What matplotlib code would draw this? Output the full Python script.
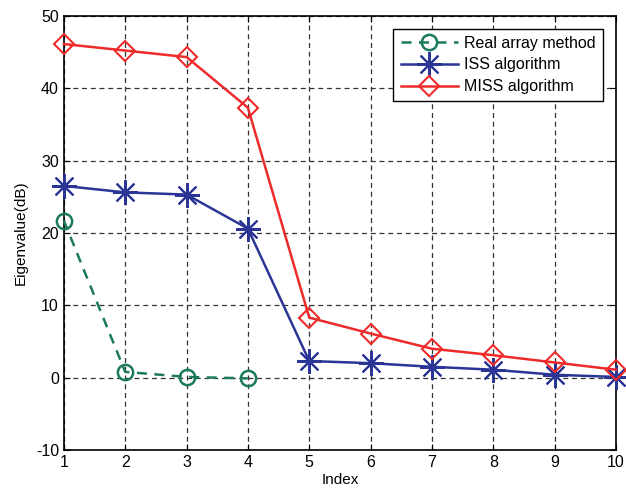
import numpy as np
import matplotlib
matplotlib.use("Agg")
import matplotlib.pyplot as plt

plt.rcParams['font.family'] = ['Liberation Sans', 'DejaVu Sans']
plt.rcParams['axes.unicode_minus'] = False

index = [1, 2, 3, 4, 5, 6, 7, 8, 9, 10]
real_idx = [1, 2, 3, 4]
real_vals = [21.7, 0.8, 0.1, -0.1]
iss_vals = [26.5, 25.6, 25.3, 20.6, 2.3, 2.0, 1.5, 1.1, 0.4, 0.1]
miss_vals = [46.1, 45.2, 44.3, 37.3, 8.3, 6.1, 4.0, 3.1, 2.1, 1.1]

green = '#1b7a5a'
blue = '#2b3596'
red = '#ee2a2a'

fig = plt.figure(figsize=(6.26, 4.94), dpi=100)
ax = fig.add_axes([0.102, 0.089, 0.882, 0.879])

ax.plot(real_idx, real_vals, '--', color=green, lw=1.8, marker='o',
        markersize=11, markerfacecolor='none', markeredgewidth=1.8,
        dashes=(4, 3), label='Real array method', clip_on=False, zorder=3)
ax.plot(index, iss_vals, '-', color=blue, lw=1.8, marker=(8, 2, 0),
        markersize=18, markeredgewidth=1.5, label='ISS algorithm',
        clip_on=False, zorder=3)
ax.plot(index, miss_vals, '-', color=red, lw=1.8, marker='D',
        markersize=10, markerfacecolor='none', markeredgewidth=1.5,
        label='MISS algorithm', clip_on=False, zorder=4)

ax.set_xlim(1, 10)
ax.set_ylim(-10, 50)
ax.set_xticks(index)
ax.set_yticks([-10, 0, 10, 20, 30, 40, 50])
ax.grid(True, color='#333333', linestyle=(0, (4, 3)), lw=0.9)
ax.tick_params(direction='in', labelsize=11.5, top=True, right=True, length=4)
for s in ax.spines.values():
    s.set_linewidth(1.2)

ax.set_xlabel('Index', fontsize=11, labelpad=2)
ax.set_ylabel('Eigenvalue(dB)', fontsize=11, labelpad=6)

leg = ax.legend(loc='upper right', fontsize=11.5, fancybox=False,
                framealpha=1, edgecolor='black', handlelength=3.6,
                borderaxespad=0.8, labelspacing=0.42, borderpad=0.45,
                handletextpad=0.4)
leg.get_frame().set_linewidth(1.0)

fig.savefig('out.png', dpi=100)
